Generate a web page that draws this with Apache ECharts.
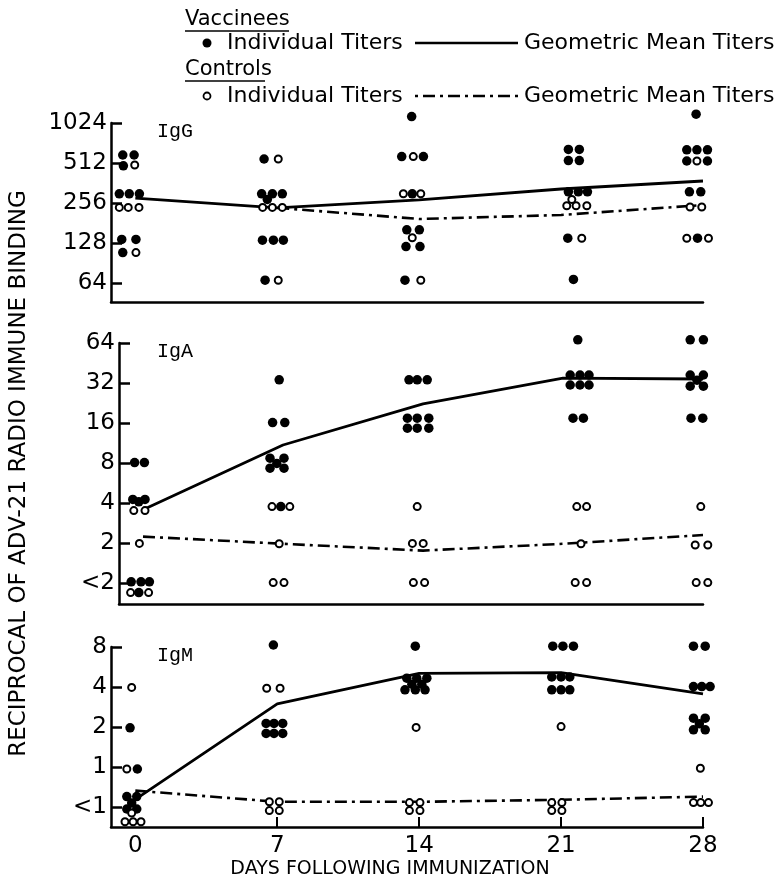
<!DOCTYPE html>
<html>
<head>
<meta charset="utf-8">
<script src="https://cdn.jsdelivr.net/npm/echarts@6/dist/echarts.min.js"></script>
<style>
  html, body { margin: 0; padding: 0; background: #fff; }
  #chart { width: 779px; height: 892px; }
</style>
</head>
<body>
<div id="chart"></div>
<script>
var days = [0, 7, 14, 21, 28]

// y levels are log2 steps, one step per doubling of the titer
var iggLevels = [6, 7, 8, 9, 10]
var iggTickLabels = ['64', '128', '256', '512', '1024']
var igaLevels = [0, 1, 2, 3, 4, 5, 6]
var igaTickLabels = ['<2', '2', '4', '8', '16', '32', '64']
var igmLevels = [0, 1, 2, 3, 4]
var igmTickLabels = ['<1', '1', '2', '4', '8']

// individual titers: [day (spread sideways as drawn), level]
var iggVaccinees = [
  [-0.62, 9.2], [-0.06, 9.2], [-0.59, 8.93], [-0.79, 8.23], [-0.3, 8.23], [0.2, 8.23], [-0.67, 7.09], [0.03, 7.09], [-0.62, 6.76],
  [6.35, 9.1], [6.23, 8.23], [6.76, 8.23], [7.25, 8.23], [6.51, 8.09], [6.27, 7.07], [6.81, 7.07], [7.3, 7.07], [6.4, 6.07],
  [13.63, 10.16], [13.14, 9.16], [14.21, 9.16], [13.66, 8.23], [13.39, 7.33], [14.01, 7.33], [13.35, 6.91], [14.04, 6.91], [13.3, 6.07],
  [21.36, 9.34], [21.9, 9.34], [21.36, 9.06], [21.9, 9.06], [21.36, 8.28], [21.85, 8.28], [22.3, 8.28], [21.33, 7.12], [21.61, 6.09],
  [27.66, 10.22], [27.2, 9.33], [27.7, 9.33], [28.22, 9.33], [27.2, 9.05], [28.22, 9.05], [27.33, 8.28], [27.89, 8.28], [27.73, 7.12]
]
var iggControls = [
  [-0.03, 8.95], [-0.79, 7.89], [-0.35, 7.89], [0.18, 7.89], [0.03, 6.76],
  [7.05, 9.1], [6.28, 7.89], [6.76, 7.89], [7.25, 7.89], [7.05, 6.07],
  [13.71, 9.16], [13.22, 8.23], [14.08, 8.23], [13.66, 7.13], [14.08, 6.07],
  [21.53, 8.09], [21.28, 7.93], [21.74, 7.93], [22.27, 7.93], [22.02, 7.12],
  [27.7, 9.05], [27.36, 7.9], [27.94, 7.9], [27.2, 7.12], [28.27, 7.12]
]
var igaVaccinees = [
  [-0.42, 3.01], [0.07, 3.01], [-0.51, 2.09], [0.1, 2.09], [-0.21, 2.03], [-0.59, 0.03], [-0.1, 0.03], [0.32, 0.03], [-0.21, -0.24],
  [6.81, 5.08], [6.48, 4.01], [7.09, 4.01], [6.35, 3.12], [7.05, 3.12], [6.69, 2.99], [6.35, 2.87], [7.05, 2.87], [6.89, 1.91],
  [13.3, 5.08], [13.71, 5.08], [14.21, 5.08], [13.22, 4.12], [13.71, 4.12], [14.29, 4.12], [13.22, 3.87], [13.71, 3.87], [14.29, 3.87],
  [21.74, 6.08], [21.36, 5.2], [21.85, 5.2], [22.3, 5.2], [21.36, 4.95], [21.85, 4.95], [22.3, 4.95], [21.5, 4.12], [22.02, 4.12],
  [27.36, 6.08], [28.02, 6.08], [27.36, 5.2], [28.02, 5.2], [27.7, 5.07], [27.36, 4.92], [28.02, 4.92], [27.4, 4.12], [27.99, 4.12]
]
var igaControls = [
  [-0.46, 1.81], [0.1, 1.81], [-0.18, 0.99], [-0.62, -0.24], [0.28, -0.24],
  [6.45, 1.91], [7.34, 1.91], [6.81, 0.98], [6.51, 0.01], [7.05, 0.01],
  [13.71, 1.91], [13.47, 0.99], [14.01, 0.99], [13.52, 0.01], [14.08, 0.01],
  [21.69, 1.91], [22.18, 1.91], [21.9, 0.98], [21.61, 0.01], [22.18, 0.01],
  [27.89, 1.91], [27.61, 0.95], [28.24, 0.95], [27.66, 0.01], [28.24, 0.01]
]
var igmVaccinees = [
  [-0.26, 1.98], [0.1, 0.95], [-0.42, 0.26], [0.07, 0.26], [-0.18, 0.1], [-0.42, -0.05], [0.07, -0.05],
  [6.81, 4.05], [6.45, 2.09], [6.84, 2.09], [7.27, 2.09], [6.45, 1.84], [6.84, 1.84], [7.27, 1.84],
  [13.81, 4.02], [13.39, 3.22], [13.88, 3.22], [14.38, 3.22], [13.64, 3.07], [14.13, 3.07], [13.3, 2.93], [13.81, 2.93], [14.29, 2.93],
  [20.59, 4.02], [21.09, 4.02], [21.61, 4.02], [20.54, 3.25], [21.0, 3.25], [21.43, 3.25], [20.54, 2.93], [21.0, 2.93], [21.43, 2.93],
  [27.53, 4.02], [28.11, 4.02], [27.53, 3.01], [27.94, 3.01], [28.35, 3.01], [27.53, 2.22], [28.11, 2.22], [27.82, 2.08], [27.53, 1.93], [28.11, 1.93]
]
var igmControls = [
  [-0.18, 2.99], [-0.42, 0.95], [-0.18, -0.15], [-0.51, -0.37], [-0.11, -0.37], [0.28, -0.37],
  [6.48, 2.97], [7.14, 2.97], [6.61, 0.13], [7.1, 0.13], [6.61, -0.09], [7.1, -0.09],
  [13.85, 1.99], [13.52, 0.11], [14.04, 0.11], [13.52, -0.09], [14.04, -0.09],
  [21.0, 2.01], [20.54, 0.11], [21.04, 0.11], [20.54, -0.09], [21.04, -0.09],
  [27.87, 0.97], [27.53, 0.11], [27.89, 0.11], [28.27, 0.11]
]

// geometric means per day (null = not drawn)
var iggVacMean = [8.12, 7.88, 8.08, 8.35, 8.55]
var iggCtlMean = [null, 7.88, 7.6, 7.7, 7.95]
var igaVacMean = [1.83, 3.45, 4.48, 5.12, 5.1]
var igaCtlMean = [1.16, 0.98, 0.81, 0.98, 1.2]
var igmVacMean = [0.19, 2.58, 3.34, 3.36, 2.83]
var igmCtlMean = [0.41, 0.13, 0.13, 0.18, 0.26]

var ink = '#000'
var font = 'DejaVu Sans'
var stepPx = 40

var panels = [
  { name: 'IgG', top: 123, min: 5.525, max: 10, levels: iggLevels, labels: iggTickLabels,
    vac: iggVaccinees, ctl: iggControls, vacMean: iggVacMean, ctlMean: iggCtlMean },
  { name: 'IgA', top: 343, min: -0.525, max: 6, levels: igaLevels, labels: igaTickLabels,
    vac: igaVaccinees, ctl: igaControls, vacMean: igaVacMean, ctlMean: igaCtlMean },
  { name: 'IgM', top: 647, min: -0.5, max: 4, levels: igmLevels, labels: igmTickLabels,
    vac: igmVaccinees, ctl: igmControls, vacMean: igmVacMean, ctlMean: igmCtlMean }
]

function meanLine(vals) {
  return days.map(function (d, i) { return [d, vals[i]] }).filter(function (p) { return p[1] != null })
}

var grids = [], xAxes = [], yAxes = [], series = [], graphics = []

panels.forEach(function (p, i) {
  var last = i === panels.length - 1
  grids.push({ left: 111, right: 76, top: p.top, height: (p.max - p.min) * stepPx })
  xAxes.push({
    gridIndex: i, type: 'value', min: -1.2, max: 28,
    axisLine: { show: true, onZero: false, lineStyle: { color: ink, width: 2.5 } },
    axisTick: { show: last, inside: true, length: 10, customValues: [7, 14, 21, 28], lineStyle: { color: ink, width: 2 } },
    axisLabel: { show: last, customValues: days, margin: 8, color: ink, fontFamily: font, fontSize: 23 },
    splitLine: { show: false },
    name: last ? 'DAYS FOLLOWING IMMUNIZATION' : '',
    nameLocation: 'middle', nameGap: 33,
    nameTextStyle: { color: ink, fontFamily: font, fontSize: 19, padding: [0, 34, 0, 0] }
  })
  yAxes.push({
    gridIndex: i, type: 'value', min: p.min, max: p.max,
    axisLine: { show: true, onZero: false, lineStyle: { color: ink, width: 2.5 } },
    axisTick: { show: true, inside: true, length: 11, customValues: p.levels, lineStyle: { color: ink, width: 2.5 } },
    axisLabel: {
      customValues: p.levels, margin: 4, color: ink, fontFamily: font, fontSize: 23,
      formatter: function (v) { return p.labels[p.levels.indexOf(Math.round(v))] }
    },
    splitLine: { show: false },
    name: i === 1 ? 'RECIPROCAL OF ADV-21 RADIO IMMUNE BINDING' : '',
    nameLocation: 'middle', nameGap: 88, nameRotate: 90,
    nameTextStyle: { color: ink, fontFamily: font, fontSize: 23 }
  })
  series.push(
    { type: 'line', xAxisIndex: i, yAxisIndex: i, data: meanLine(p.vacMean), symbol: 'none', silent: true,
      lineStyle: { color: ink, width: 2.8 }, z: 2 },
    { type: 'line', xAxisIndex: i, yAxisIndex: i, data: meanLine(p.ctlMean), symbol: 'none', silent: true,
      lineStyle: { color: ink, width: 2.6, type: [12, 5, 3, 5] }, z: 2 },
    { type: 'scatter', xAxisIndex: i, yAxisIndex: i, data: p.vac, symbolSize: 9.5, clip: false,
      itemStyle: { color: ink, opacity: 1 }, z: 3 },
    { type: 'scatter', xAxisIndex: i, yAxisIndex: i, data: p.ctl, symbolSize: 7, clip: false,
      itemStyle: { color: '#fff', borderColor: ink, borderWidth: 2, opacity: 1 }, z: 4 }
  )
  graphics.push({ type: 'text', x: 157, y: p.top - 1,
    style: { text: p.name, font: '20px "Liberation Mono"', fill: ink, verticalAlign: 'top' } })
})

// key at the top
graphics.push(
  { type: 'text', x: 185, y: 20, style: { text: 'Vaccinees', font: '21px "DejaVu Sans"', fill: ink, verticalAlign: 'middle' } },
  { type: 'line', shape: { x1: 185, y1: 31, x2: 289, y2: 31 }, style: { stroke: ink, lineWidth: 1.5 } },
  { type: 'circle', shape: { cx: 207, cy: 43, r: 4.5 }, style: { fill: ink } },
  { type: 'text', x: 227, y: 43, style: { text: 'Individual Titers', font: '22px "DejaVu Sans"', fill: ink, verticalAlign: 'middle' } },
  { type: 'line', shape: { x1: 415, y1: 43, x2: 518, y2: 43 }, style: { stroke: ink, lineWidth: 2.5 } },
  { type: 'text', x: 524, y: 43, style: { text: 'Geometric Mean Titers', font: '22px "DejaVu Sans"', fill: ink, verticalAlign: 'middle' } },
  { type: 'text', x: 185, y: 70, style: { text: 'Controls', font: '21px "DejaVu Sans"', fill: ink, verticalAlign: 'middle' } },
  { type: 'line', shape: { x1: 185, y1: 81, x2: 265, y2: 81 }, style: { stroke: ink, lineWidth: 1.5 } },
  { type: 'circle', shape: { cx: 207, cy: 96, r: 3.5 }, style: { fill: '#fff', stroke: ink, lineWidth: 1.8 } },
  { type: 'text', x: 227, y: 96, style: { text: 'Individual Titers', font: '22px "DejaVu Sans"', fill: ink, verticalAlign: 'middle' } },
  { type: 'line', shape: { x1: 415, y1: 96, x2: 520, y2: 96 }, style: { stroke: ink, lineWidth: 2.5, lineDash: [3, 5, 12, 5] } },
  { type: 'text', x: 524, y: 96, style: { text: 'Geometric Mean Titers', font: '22px "DejaVu Sans"', fill: ink, verticalAlign: 'middle' } }
)

var chart = echarts.init(document.getElementById('chart'))
chart.setOption({
  backgroundColor: '#fff',
  animation: false,
  grid: grids,
  xAxis: xAxes,
  yAxis: yAxes,
  series: series,
  graphic: graphics
})
</script>
</body>
</html>
